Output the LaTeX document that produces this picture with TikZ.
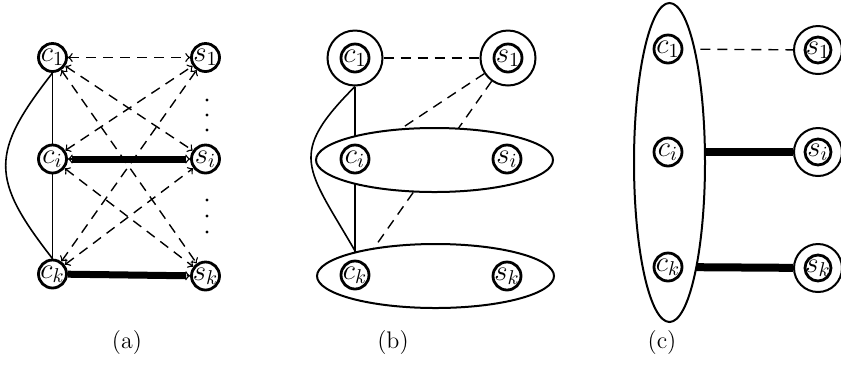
\documentclass[tikz,border=0pt]{standalone}
\usepackage{amsmath}
\usepackage{amssymb}
\usetikzlibrary{shapes.geometric, arrows, positioning, calc}
\pgfdeclarelayer{edges}
\pgfdeclarelayer{blobs}
\pgfsetlayers{edges,blobs,main}

\begin{document}
\begin{tikzpicture}[
    x=0.5pt, y=-0.5pt,
    vtx/.style={circle, draw, line width=1.4pt, minimum size=14pt, inner sep=-1pt, font=\Large},
    ring/.style={circle, draw, line width=1pt, minimum size=27.5pt, inner sep=0pt},
    blob/.style={ellipse, draw, line width=1pt, fill=white, inner sep=0pt},
    subcap/.style={font=\large},
    link/.style={line width=0.8pt},
    dashlink/.style={line width=0.7pt, dash pattern=on 5pt off 3.5pt},
    arrow/.style={dashlink, <->, >=to},
    heavy/.style={line width=3.5pt, shorten <=2pt, shorten >=2pt}
]
\useasboundingbox (0,0) rectangle (841,366);

% (a) Nodes
\node (ac1) [vtx] at (52.5,57.5) {$c_1$};
\node (as1) [vtx] at (205.5,57.5) {$s_1$};
\node (aci) [vtx] at (52.5,159) {$c_i$};
\node (asi) [vtx] at (205.5,159) {$s_i$};
\node (ack) [vtx] at (52.5,274) {$c_k$};
\node (ask) [vtx] at (205.5,276) {$s_k$};
\foreach \y in {100,115,130,200,216,232}
    \fill (207,\y) circle (0.8pt);
\node (capa) [subcap] at (127,343) {(a)};

% (b) Nodes
\node (bc1) [vtx] at (355,58) {$c_1$};
\node (bc1r) [ring] at (bc1) {};
\node (bs1) [vtx] at (508,58) {$s_1$};
\node (bs1r) [ring] at (bs1) {};
\node (bci) [vtx] at (355,159) {$c_i$};
\node (bsi) [vtx] at (507,159) {$s_i$};
\node (bck) [vtx] at (355,275) {$c_k$};
\node (bsk) [vtx] at (507,276) {$s_k$};
\node (capb) [subcap] at (393,343) {(b)};

% (c) Nodes
\node (cc1) [vtx] at (668,49) {$c_1$};
\node (cci) [vtx] at (668,152) {$c_i$};
\node (cck) [vtx] at (668,267) {$c_k$};
\node (cs1) [vtx, minimum size=13pt] at (818,50) {$s_1$};
\node (cs1r) [ring, minimum size=24pt] at (cs1) {};
\node (csi) [vtx, minimum size=13pt] at (818,152) {$s_i$};
\node (csir) [ring, minimum size=24pt] at (csi) {};
\node (csk) [vtx, minimum size=13pt] at (818,268) {$s_k$};
\node (cskr) [ring, minimum size=24pt] at (csk) {};
\node (capc) [subcap] at (662,343) {(c)};

% Groups
\begin{pgfonlayer}{blobs}
\node (bEi) [blob, minimum width=118.5pt, minimum height=32pt] at (434.5,160) {};
\node (bEk) [blob, minimum width=118.5pt, minimum height=32pt] at (435.5,276) {};
\node (cE) [blob, minimum width=35.5pt, minimum height=159.5pt] at (669.5,162.5) {};
\end{pgfonlayer}

% Edges
\begin{pgfonlayer}{edges}
\draw [link] (ac1) -- (aci);
\draw [link] (aci) -- (ack);
\draw [link] (ac1.south) to[bend right=38, looseness=1.4] (ack.north);
\draw [arrow] (ac1) -- (as1);
\draw [arrow] (ac1) -- (asi);
\draw [arrow] (ac1) -- (ask);
\draw [arrow] (aci) -- (as1);
\draw [arrow] (aci) -- (ask);
\draw [arrow] (ack) -- (as1);
\draw [arrow] (ack) -- (asi);
\draw [arrow] (aci) -- (asi);
\draw [heavy] (aci) -- (asi);
\draw [dashlink, ->, >=to] (ack) -- (ask);
\draw [heavy, shorten <=0pt] (ack) -- (ask);

\draw [link] (bc1r) -- (bci);
\draw [link] (bci) -- (bck);
\draw [link] (bc1r.south) to[out=225, in=120, looseness=1.5] (bEk.163);
\draw [dashlink] (bc1r) -- (bs1r);
\draw [dashlink] (bs1r) -- (bci);
\draw [dashlink] (bs1r) -- (bck);

\draw [dashlink] (cc1) -- (cs1r);
\draw [heavy, line width=4pt, shorten <=0pt, shorten >=0pt] (cci) -- (csir);
\draw [heavy, line width=4pt, shorten <=0pt, shorten >=0pt] (cck) -- (cskr);
\end{pgfonlayer}

\end{tikzpicture}
\end{document}
